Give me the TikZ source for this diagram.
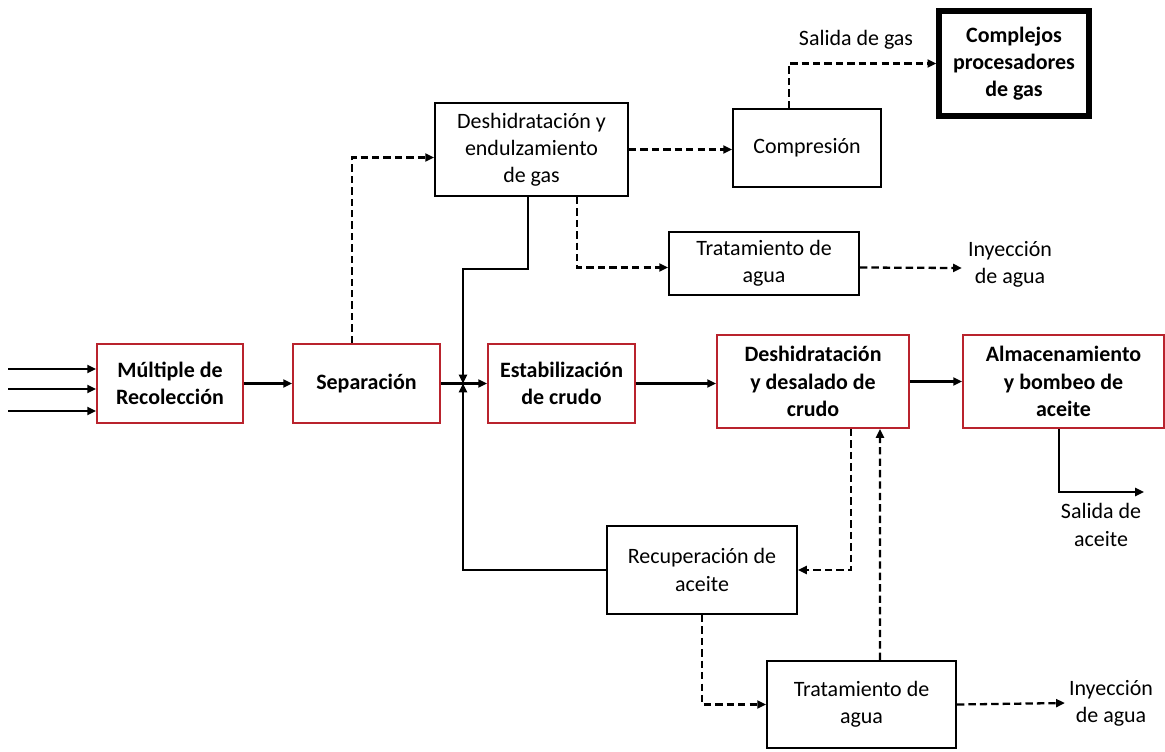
\documentclass[tikz,border=0pt]{standalone}
\usepackage{fontspec}
\setmainfont{Carlito}
\usetikzlibrary{calc,arrows.meta}
\definecolor{boxred}{RGB}{185,35,45}
\begin{document}
\begin{tikzpicture}[x=0.02cm, y=-0.02cm,
  font=\fontsize{12.5}{15.5}\selectfont,
  >={Triangle[length=5pt,width=4.5pt]},
  redbox/.style={draw=boxred, line width=1.1pt, align=center, inner sep=2pt, font=\fontsize{12.5}{15.5}\selectfont\bfseries},
  blackbox/.style={draw, line width=1.1pt, align=center, inner sep=2pt},
  label/.style={align=center, inner sep=1pt},
  flow/.style={line width=1.2pt, ->},
  gasflow/.style={flow, line width=1.3pt, dash pattern=on 4.2pt off 2.3pt}]

\useasboundingbox (0,0) rectangle (1165,751);

% main line
\node[redbox, minimum width=146*0.02cm, minimum height=79*0.02cm] (mult) at (170,383.5) {M\'ultiple de\\Recolecci\'on};
\node[redbox, minimum width=147*0.02cm, minimum height=79*0.02cm] (sep) at (366.5,383.5) {Separaci\'on};
\node[redbox, minimum width=147*0.02cm, minimum height=79*0.02cm] (estab) at (561.5,383.5) {Estabilizaci\'on\\de crudo};
\node[redbox, minimum width=192*0.02cm, minimum height=93*0.02cm] (desh) at (813,381.5) {Deshidrataci\'on\\y desalado de\\crudo};
\node[redbox, minimum width=201*0.02cm, minimum height=93*0.02cm] (alm) at (1063.5,381.5) {Almacenamiento\\y bombeo de\\aceite};

% gas side
\node[blackbox, minimum width=193*0.02cm, minimum height=93*0.02cm] (gas) at (531.5,149.5) {Deshidrataci\'on y\\endulzamiento\\de gas};
\node[blackbox, minimum width=148*0.02cm, minimum height=78*0.02cm] (comp) at (807,148) {Compresi\'on};
\node[blackbox, minimum width=190*0.02cm, minimum height=63*0.02cm] (trat1) at (764,263.5) {Tratamiento de\\agua};
\node[draw, line width=3pt, align=center, inner sep=2pt, font=\fontsize{12.5}{15.5}\selectfont\bfseries,
  minimum width=150*0.02cm, minimum height=105*0.02cm] (cpg) at (1014,63.5) {Complejos\\procesadores\\de gas};

% water side
\node[blackbox, minimum width=190*0.02cm, minimum height=88*0.02cm] (recup) at (702,570) {Recuperaci\'on de\\aceite};
\node[blackbox, minimum width=189*0.02cm, minimum height=87*0.02cm] (trat2) at (861.5,704.5) {Tratamiento de\\agua};

% free labels
\node[label] (salgas) at (856,40) {Salida de gas};
\node[label] (iny1) at (1010,264) {Inyecci\'on\\de agua};
\node[label] (iny2) at (1111,703) {Inyecci\'on\\de agua};
\node[label] (salac) at (1101,525) {Salida de\\aceite};

\coordinate (in1) at (8,369);
\coordinate (in2) at (8,389);
\coordinate (in3) at (8,411);
\coordinate (jn) at (463,383.5);
\coordinate (sa) at (1144,492);

% inputs
\draw[flow] (in1) -- (in1 -| mult.west);
\draw[flow] (in2) -- (in2 -| mult.west);
\draw[flow] (in3) -- (in3 -| mult.west);

\draw[flow] (mult) -- (sep);
\draw[flow] (sep.east) -- (estab.west);
\draw[flow] (estab.east) -- (estab.east -| desh.west);
\draw[flow] (desh.east) -- (alm.west);

% returns to the junction
\draw[flow] ($(gas.south)+(-3.5,0)$) -- ++(0,72) -| (jn);
\draw[flow] (recup.west) -| (jn);

% gas
\draw[gasflow] ($(sep.north)+(-14.5,0)$) |- ($(gas.west)+(0,8)$);
\draw[gasflow] (gas.east) -- (gas.east -| comp.west);
\draw[gasflow] ($(gas.south)+(45.5,0)$) |- ($(trat1.west)+(0,4)$);
\draw[gasflow] ($(trat1.east)+(0,4)$) -- ($(iny1.west)+(-4,4)$);
\draw[gasflow] ($(comp.north)+(-18,0)$) |- (cpg.west);

% oil out
\draw[flow] ($(alm.south)+(-4.5,0)$) |- (sa);

% water
\draw[gasflow] ($(desh.south)+(38,0)$) |- (recup.east);
\draw[gasflow] ($(trat2.north)+(18.5,0)$) -- ($(desh.south)+(67,0)$);
\draw[gasflow] (recup.south) |- (trat2.west);
\draw[gasflow] (trat2.east) -- ($(iny2.west)+(-2,0)$);

\end{tikzpicture}
\end{document}
